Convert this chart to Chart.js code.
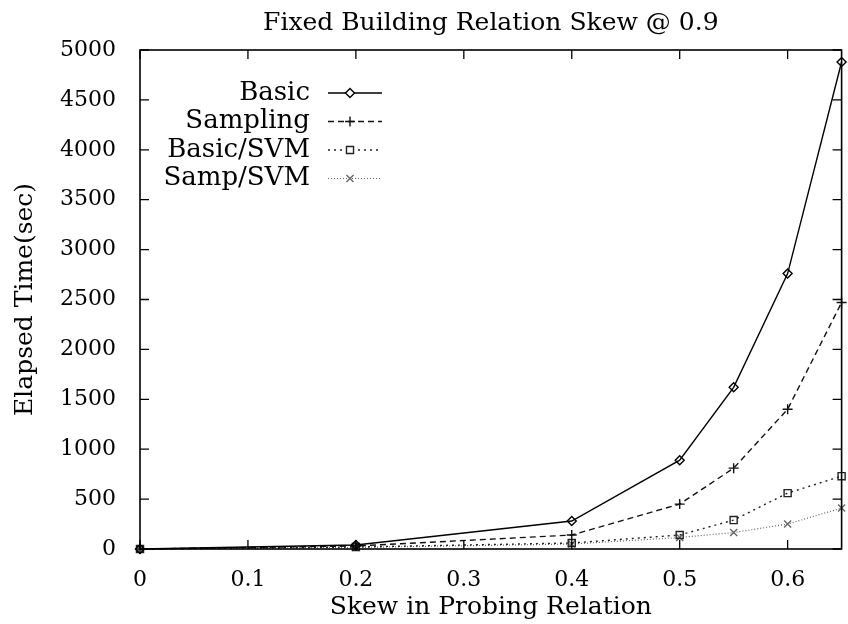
<!DOCTYPE html>
<html>
<head>
<meta charset="utf-8">
<script src="https://cdn.jsdelivr.net/npm/chart.js@4"></script>
<style>
  html, body { margin: 0; padding: 0; background: #fff; }
  #wrap { width: 848px; height: 624px; }
</style>
</head>
<body>
<div id="wrap"><canvas id="myChart"></canvas></div>
<script>
const chartTitle = "Fixed Building Relation Skew @ 0.9";
const skew = [0, 0.2, 0.4, 0.5, 0.55, 0.6, 0.65];
const basic = [0, 40, 280, 890, 1620, 2760, 4880];
const sampling = [0, 30, 140, 450, 810, 1400, 2470];
const basicSvm = [0, 20, 60, 140, 290, 560, 730];
const sampSvm = [0, 15, 50, 115, 165, 250, 410];
const seriesNames = ["Basic", "Sampling", "Basic/SVM", "Samp/SVM"];
const xTicks = [0, 0.1, 0.2, 0.3, 0.4, 0.5, 0.6];

const serif = "'DejaVu Serif', serif";

const toPoints = vals => skew.map((x, i) => ({ x: x, y: vals[i] }));

const styles = [
  { color: "#000", dash: [], point: "rectRot", radius: 4.5, width: 1.4 },
  { color: "#111", dash: [6, 4], point: "cross", radius: 5, width: 1.4 },
  { color: "#222", dash: [2, 4], point: "rect", radius: 5, width: 1.4 },
  { color: "#666", dash: [1, 2], point: "crossRot", radius: 5, width: 1.2 }
];

const datasets = [basic, sampling, basicSvm, sampSvm].map((vals, i) => ({
  label: seriesNames[i],
  data: toPoints(vals),
  borderColor: styles[i].color,
  borderWidth: styles[i].width,
  borderDash: styles[i].dash,
  pointStyle: styles[i].point,
  pointRadius: styles[i].radius,
  pointBorderColor: styles[i].color,
  pointBackgroundColor: "rgba(0,0,0,0)",
  pointBorderWidth: 1.4,
  showLine: true,
  fill: false,
  clip: false
}));

// gnuplot style box with inward ticks, title over the plot, legend
const frame = {
  id: "frame",
  afterDraw(chart) {
    const { ctx, chartArea: a, scales } = chart;
    ctx.save();
    ctx.strokeStyle = "#000";
    ctx.lineWidth = 1.6;
    ctx.setLineDash([]);
    ctx.strokeRect(a.left, a.top, a.right - a.left, a.bottom - a.top);
    ctx.lineWidth = 1.3;
    scales.x.ticks.forEach(t => {
      const px = scales.x.getPixelForValue(t.value);
      ctx.beginPath();
      ctx.moveTo(px, a.bottom); ctx.lineTo(px, a.bottom - 9);
      ctx.moveTo(px, a.top); ctx.lineTo(px, a.top + 9);
      ctx.stroke();
    });
    scales.y.ticks.forEach(t => {
      const py = scales.y.getPixelForValue(t.value);
      ctx.beginPath();
      ctx.moveTo(a.left, py); ctx.lineTo(a.left + 9, py);
      ctx.moveTo(a.right, py); ctx.lineTo(a.right - 9, py);
      ctx.stroke();
    });

    ctx.fillStyle = "#000";
    ctx.font = "25px " + serif;
    ctx.textAlign = "center";
    ctx.textBaseline = "middle";
    ctx.fillText(chartTitle, (a.left + a.right) / 2, 23);

    // legend: text on the left, line sample on the right
    ctx.font = "26px " + serif;
    ctx.textAlign = "right";
    chart.data.datasets.forEach((ds, i) => {
      const y = 93 + 28.5 * i;
      ctx.fillStyle = "#000";
      ctx.fillText(ds.label, 310, y);
      ctx.strokeStyle = ds.borderColor;
      ctx.lineWidth = ds.borderWidth;
      ctx.setLineDash(ds.borderDash);
      ctx.beginPath();
      ctx.moveTo(328, y); ctx.lineTo(382, y);
      ctx.stroke();
      ctx.setLineDash([]);
      ctx.fillStyle = "#fff";
      ctx.lineWidth = ds.pointBorderWidth;
      Chart.helpers.drawPoint(ctx, {
        pointStyle: ds.pointStyle,
        radius: ds.pointRadius,
        borderWidth: ds.pointBorderWidth,
        rotation: 0
      }, 350, y);
    });
    ctx.restore();
  }
};

new Chart(document.getElementById("myChart"), {
  type: "scatter",
  data: { datasets: datasets },
  options: {
    responsive: true,
    maintainAspectRatio: false,
    animation: false,
    layout: { padding: { left: 0, right: 2, top: 50, bottom: 0 } },
    plugins: {
      legend: { display: false },
      tooltip: { enabled: false }
    },
    scales: {
      x: {
        type: "linear",
        min: 0,
        max: 0.65,
        afterBuildTicks: scale => { scale.ticks = xTicks.map(v => ({ value: v })); },
        afterFit: scale => { scale.height = 75; },
        grid: { display: false, drawTicks: false },
        border: { display: false },
        ticks: {
          color: "#000",
          padding: 18,
          font: { family: serif, size: 22 },
          callback: v => String(Math.round(v * 10) / 10)
        },
        title: {
          display: true,
          text: "Skew in Probing Relation",
          color: "#000",
          font: { family: serif, size: 25 },
          padding: { top: 0, bottom: 2 }
        }
      },
      y: {
        min: 0,
        max: 5000,
        afterFit: scale => { scale.width = 140; },
        grid: { display: false, drawTicks: false },
        border: { display: false },
        ticks: {
          color: "#000",
          stepSize: 500,
          padding: 24,
          font: { family: serif, size: 22 },
          callback: v => String(v)
        },
        title: {
          display: true,
          text: "Elapsed Time(sec)",
          color: "#000",
          font: { family: serif, size: 25 },
          padding: { top: 10, bottom: 0 }
        }
      }
    }
  },
  plugins: [frame]
});
</script>
</body>
</html>
